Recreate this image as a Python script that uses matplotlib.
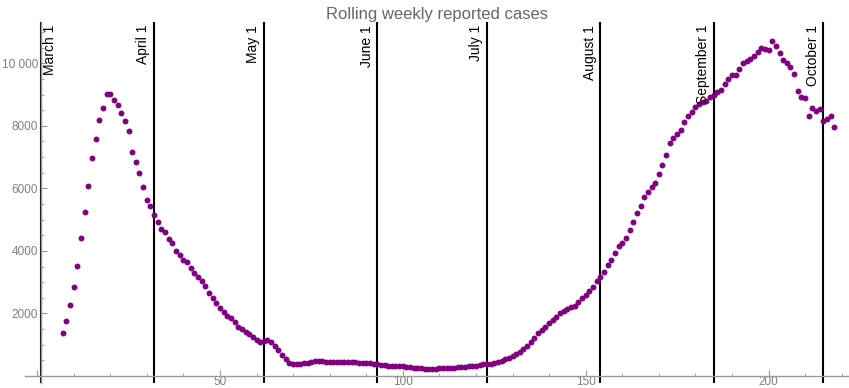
import numpy as np
import matplotlib
matplotlib.use('Agg')
import matplotlib.pyplot as plt
from matplotlib.ticker import MultipleLocator, FixedLocator, FuncFormatter

plt.rcParams['font.family'] = ['Liberation Sans', 'DejaVu Sans']

# === DATA (days counted from March 1 = day 1) ===
first_day = 7
cases = [
    1365, 1750, 2270, 2835, 3510, 4413, 5245, 6066, 6980, 7570,   # 7-16
    8186, 8570, 9009, 9009, 8826, 8657, 8421, 8155, 7835, 7153,   # 17-26
    6833, 6481, 6033, 5640, 5426, 5160, 4915, 4711, 4594, 4391,   # 27-36
    4243, 3987, 3859, 3710, 3636, 3454, 3304, 3176, 3038, 2869,   # 37-46
    2654, 2504, 2334, 2184, 2056, 1928, 1845, 1737, 1577, 1503,   # 47-56
    1397, 1333, 1247, 1151, 1087, 1129, 1141, 1097, 959, 831,     # 57-66
    681, 553, 416, 375, 368, 390, 415, 430, 450, 468,             # 67-76
    480, 470, 458, 445, 440, 437, 437, 437, 437, 437,             # 77-86
    432, 428, 426, 415, 400, 392, 384, 360, 340, 322,             # 87-96
    320, 320, 318, 310, 298, 286, 270, 260, 245, 238,             # 97-106
    235, 235, 238, 245, 250, 255, 262, 270, 277, 290,             # 107-116
    298, 309, 322, 335, 352, 370, 384, 395, 410, 440,             # 117-126
    480, 530, 585, 640, 705, 778, 860, 960, 1080, 1220,           # 127-136
    1360, 1480, 1560, 1680, 1791, 1900, 2005, 2080, 2140, 2200,   # 137-146
    2250, 2380, 2480, 2600, 2720, 2860, 3040, 3176, 3326, 3540,   # 147-156
    3710, 3924, 4157, 4243, 4423, 4679, 4915, 5213, 5446, 5715,   # 157-166
    5875, 6034, 6182, 6470, 6748, 7067, 7442, 7601, 7749, 7867,   # 167-176
    8113, 8324, 8442, 8593, 8689, 8763, 8804, 8913, 8986, 9073,   # 177-186
    9146, 9328, 9488, 9636, 9636, 9828, 10000, 10064, 10128, 10234,  # 187-196
    10371, 10480, 10448, 10426, 10713, 10553, 10320, 10106, 10019, 9891,  # 197-206
    9658, 9124, 8932, 8881, 8324, 8580, 8464, 8528, 8164, 8218,   # 207-216
    8315, 7973,                                                   # 217-218
]
days = np.arange(first_day, first_day + len(cases))

month_labels = ['March 1', 'April 1', 'May 1', 'June 1', 'July 1',
                'August 1', 'September 1', 'October 1']
month_days = [1, 32, 62, 93, 123, 154, 185, 215]

title = 'Rolling weekly reported cases'

# === PLOT ===
fig = plt.figure(figsize=(8.49, 3.88), dpi=100)
ax = fig.add_axes([25 / 849, 5 / 388, 824 / 849, 361 / 388])

ax.set_xlim(-3.3, 222)
ax.set_ylim(-224, 11321)

for d in month_days:
    ax.axvline(d, color='black', lw=1.5, zorder=2)

ax.scatter(days, cases, s=18, color='#800080', linewidths=0, zorder=3)

# month labels, rotated, hanging from the top
trans = ax.get_xaxis_transform()
for lab, d in zip(month_labels, month_days):
    if d == month_days[0]:
        ax.text(d + 0.5, 0.992, lab, rotation=90, ha='left', va='top',
                fontsize=10, color='black', transform=trans, zorder=4)
    else:
        ax.text(d - 1.0, 0.992, lab, rotation=90, ha='right', va='top',
                fontsize=10, color='black', transform=trans, zorder=4)

# Mathematica-ish axes crossing inside the plot
axis_col = '#999999'
for side in ['top', 'right']:
    ax.spines[side].set_visible(False)
ax.spines['left'].set_position(('data', 1))
ax.spines['bottom'].set_position(('data', 0))
ax.spines['left'].set_color(axis_col)
ax.spines['bottom'].set_color(axis_col)
ax.spines['left'].set_linewidth(1.0)
ax.spines['bottom'].set_linewidth(1.0)

ax.xaxis.set_major_locator(FixedLocator([0, 50, 100, 150, 200]))
ax.xaxis.set_minor_locator(MultipleLocator(10))
ax.yaxis.set_major_locator(FixedLocator([2000, 4000, 6000, 8000, 10000]))
ax.yaxis.set_minor_locator(MultipleLocator(500))
ax.xaxis.set_major_formatter(FuncFormatter(lambda v, p: '' if v == 0 else f'{int(v)}'))
ax.yaxis.set_major_formatter(FuncFormatter(
    lambda v, p: f'{int(v):,}'.replace(',', ' ') if v >= 10000 else f'{int(v)}'))

ax.tick_params(which='both', direction='in', color=axis_col,
               labelcolor='#808080', labelsize=8.5, pad=2)
ax.tick_params(axis='x', which='both', pad=0.3)
ax.tick_params(which='major', length=4, width=0.8)
ax.tick_params(which='minor', length=2, width=0.6)

ax.set_title(title, color='#666666', fontsize=12, pad=1)

plt.savefig('out.png', dpi=100)
plt.close()
